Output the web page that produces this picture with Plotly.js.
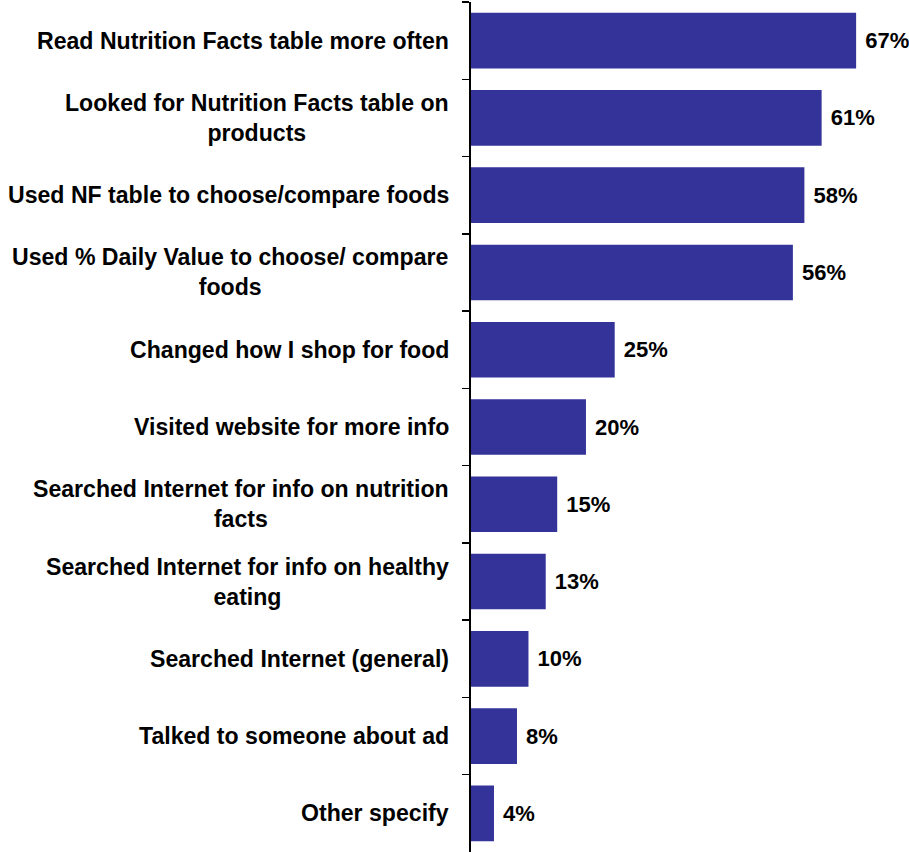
<!DOCTYPE html>
<html><head><meta charset="utf-8">
<script src="https://cdn.plot.ly/plotly-3.0.1.min.js"></script>
<style>html,body{margin:0;padding:0;background:#fff;}#chart{width:909px;height:852px;}</style>
</head><body><div id="chart"></div>
<script>
var categories = [
  "Read Nutrition Facts table more often",
  "Looked for Nutrition Facts table on<br>products",
  "Used NF table to choose/compare foods",
  "Used % Daily Value to choose/ compare<br>foods",
  "Changed how I shop for food",
  "Visited website for more info",
  "Searched Internet for info on nutrition<br>facts",
  "Searched Internet for info on healthy<br>eating",
  "Searched Internet (general)",
  "Talked to someone about ad",
  "Other specify"
];
var values = [67, 61, 58, 56, 25, 20, 15, 13, 10, 8, 4];
var valueLabels = values.map(function(v){ return "\u00a0" + v + "%"; });

var font = {family: "Liberation Sans, Arial, sans-serif", size: 23.1, color: "#000", weight: "bold"};

var trace = {
  type: "bar",
  orientation: "h",
  x: values,
  y: categories,
  marker: {color: "#333399", line: {width: 0}},
  text: valueLabels,
  textposition: "outside",
  textfont: {family: font.family, size: 22, color: "#000", weight: "bold"},
  cliponaxis: false,
  hoverinfo: "none"
};

var annotations = categories.map(function(c){
  return {
    xref: "paper", yref: "y", x: 0, y: c,
    xanchor: "right", yanchor: "middle", xshift: -20,
    text: "<b>" + c + "</b>", align: "center", showarrow: false,
    font: font
  };
});

var layout = {
  width: 909, height: 852,
  margin: {l: 471, r: 0, t: 2, b: 0, pad: 0},
  paper_bgcolor: "#fff", plot_bgcolor: "#fff",
  bargap: 0.28,
  showlegend: false,
  font: font,
  xaxis: {range: [0, 76.2], visible: false, fixedrange: true},
  yaxis: {
    autorange: "reversed",
    showticklabels: false,
    showline: true, linecolor: "#000", linewidth: 2,
    ticks: "outside", ticklen: 7, tickwidth: 1.5, tickcolor: "#000",
    tickson: "boundaries",
    showgrid: false, zeroline: false
  },
  annotations: annotations
};

Plotly.newPlot("chart", [trace], layout, {staticPlot: true, displayModeBar: false});
</script>
</body></html>
